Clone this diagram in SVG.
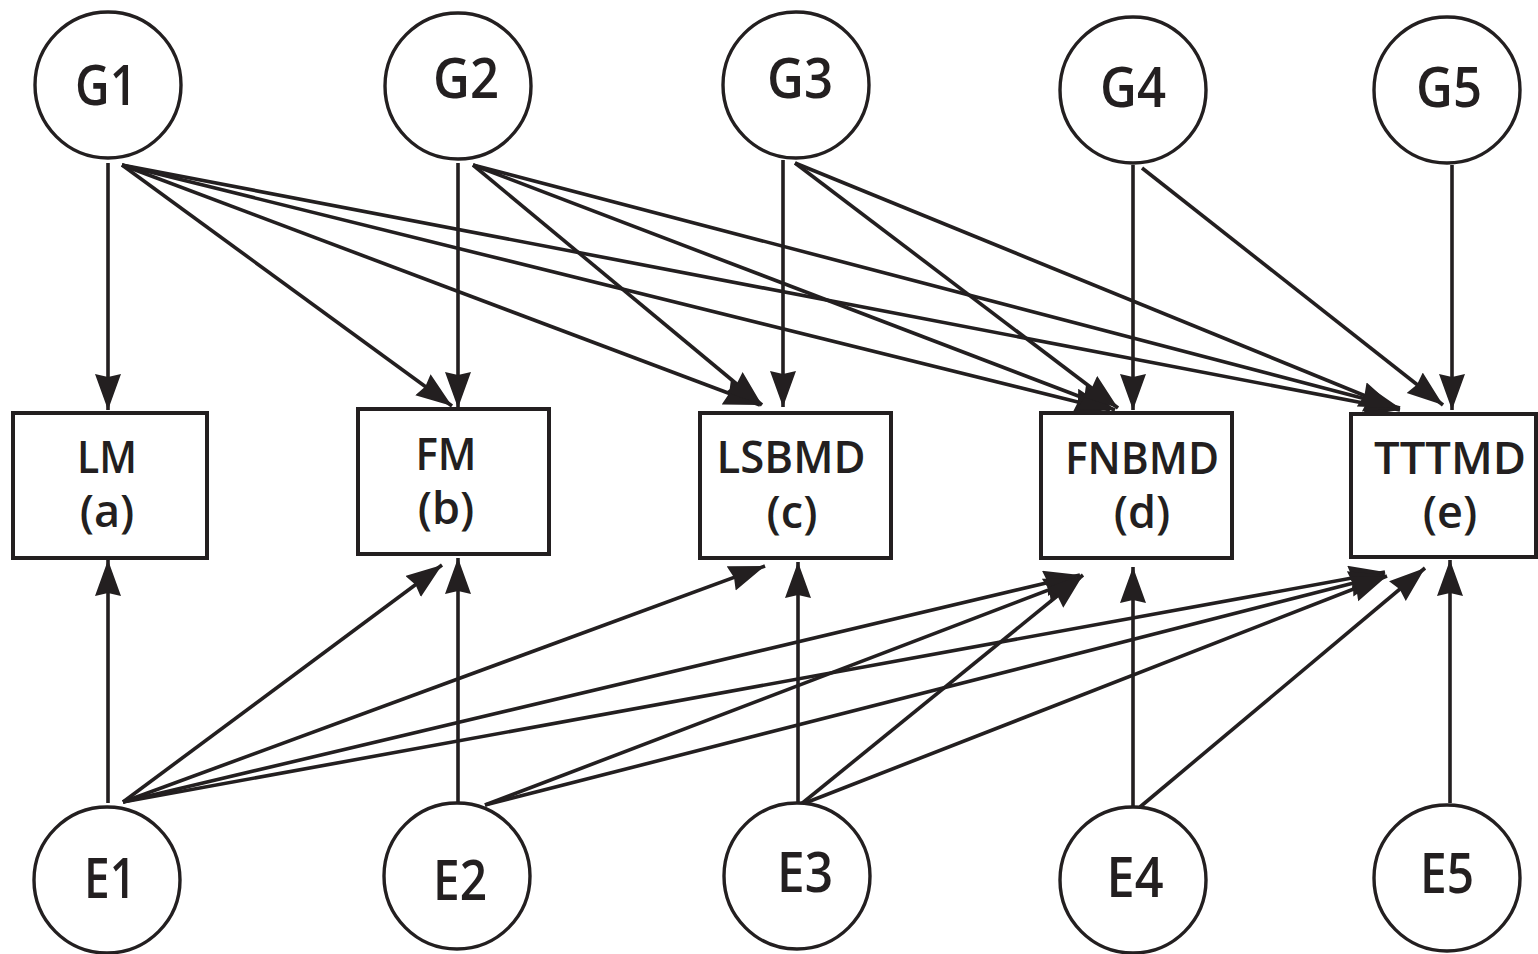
<svg xmlns="http://www.w3.org/2000/svg" width="1538" height="954" viewBox="0 0 1538 954">
<style>
.c{fill:#fff;stroke:#231f20;stroke-width:3.4}
.b{fill:#fff;stroke:#231f20;stroke-width:4}
.t{font-family:"Open Sans","Liberation Sans",sans-serif;font-weight:600;fill:#231f20;text-anchor:middle}
.ct{font-size:56px}
.bt{font-size:45px}
#edges line{stroke:#231f20;stroke-width:3.6;marker-end:url(#ah)}
</style>
<defs>
<marker id="ah" markerUnits="userSpaceOnUse" markerWidth="40" markerHeight="28" refX="36" refY="13" orient="auto">
<path d="M0,0 L36,13 L0,26 L3,13 z" fill="#231f20"/>
</marker>
</defs>
<rect width="1538" height="954" fill="#fff"/>
<g id="edges">
<line x1="108" y1="163" x2="108" y2="410"/>
<line x1="122" y1="165" x2="452" y2="406"/>
<line x1="122" y1="165" x2="760" y2="405"/>
<line x1="122" y1="165" x2="1110" y2="410"/>
<line x1="122" y1="165" x2="1400" y2="410"/>
<line x1="458" y1="163" x2="458" y2="408"/>
<line x1="473" y1="165" x2="762" y2="405"/>
<line x1="473" y1="165" x2="1115" y2="410"/>
<line x1="473" y1="165" x2="1400" y2="408"/>
<line x1="783" y1="160" x2="783" y2="407"/>
<line x1="795" y1="163" x2="1118" y2="408"/>
<line x1="795" y1="163" x2="1395" y2="408"/>
<line x1="1133" y1="165" x2="1133" y2="410"/>
<line x1="1142" y1="168" x2="1443" y2="405"/>
<line x1="1452" y1="165" x2="1452" y2="410"/>
<line x1="108" y1="803" x2="108" y2="560"/>
<line x1="123" y1="802" x2="442" y2="565"/>
<line x1="123" y1="802" x2="765" y2="566"/>
<line x1="123" y1="802" x2="1080" y2="575"/>
<line x1="123" y1="802" x2="1385" y2="572"/>
<line x1="458" y1="803" x2="458" y2="558"/>
<line x1="485" y1="805" x2="1080" y2="578"/>
<line x1="485" y1="805" x2="1385" y2="575"/>
<line x1="798" y1="802" x2="798" y2="562"/>
<line x1="800" y1="805" x2="1083" y2="575"/>
<line x1="800" y1="805" x2="1387" y2="576"/>
<line x1="1133" y1="808" x2="1133" y2="567"/>
<line x1="1140" y1="807" x2="1425" y2="568"/>
<line x1="1450" y1="803" x2="1450" y2="560"/>
</g>
<g id="G1"><circle class="c" cx="108" cy="85" r="73"/><text class="t ct" x="106" y="105" textLength="62" lengthAdjust="spacingAndGlyphs">G1</text></g>
<g id="G2"><circle class="c" cx="458" cy="86" r="73"/><text class="t ct" x="466" y="98" textLength="66" lengthAdjust="spacingAndGlyphs">G2</text></g>
<g id="G3"><circle class="c" cx="796" cy="85" r="73"/><text class="t ct" x="800" y="98" textLength="66" lengthAdjust="spacingAndGlyphs">G3</text></g>
<g id="G4"><circle class="c" cx="1133" cy="90" r="73"/><text class="t ct" x="1133" y="107" textLength="66" lengthAdjust="spacingAndGlyphs">G4</text></g>
<g id="G5"><circle class="c" cx="1447" cy="90" r="73"/><text class="t ct" x="1449" y="107" textLength="66" lengthAdjust="spacingAndGlyphs">G5</text></g>
<g id="LM"><rect class="b" x="13" y="413" width="194" height="145"/><text class="t bt" x="107" y="473" textLength="60" lengthAdjust="spacingAndGlyphs">LM</text><text class="t bt" x="107" y="527">(a)</text></g>
<g id="FM"><rect class="b" x="358" y="409" width="191" height="145"/><text class="t bt" x="446" y="470" textLength="61" lengthAdjust="spacingAndGlyphs">FM</text><text class="t bt" x="446" y="524">(b)</text></g>
<g id="LSBMD"><rect class="b" x="700" y="413" width="191" height="145"/><text class="t bt" x="791" y="473" textLength="149" lengthAdjust="spacingAndGlyphs">LSBMD</text><text class="t bt" x="792" y="528">(c)</text></g>
<g id="FNBMD"><rect class="b" x="1041" y="413" width="191" height="145"/><text class="t bt" x="1142" y="474" textLength="154" lengthAdjust="spacingAndGlyphs">FNBMD</text><text class="t bt" x="1142" y="528">(d)</text></g>
<g id="TTTMD"><rect class="b" x="1351" y="414" width="185" height="143"/><text class="t bt" x="1450" y="474" textLength="152" lengthAdjust="spacingAndGlyphs">TTTMD</text><text class="t bt" x="1450" y="528">(e)</text></g>
<g id="E1"><circle class="c" cx="107" cy="880" r="73"/><text class="t ct" x="110" y="898" textLength="52" lengthAdjust="spacingAndGlyphs">E1</text></g>
<g id="E2"><circle class="c" cx="457" cy="876" r="73"/><text class="t ct" x="460" y="900" textLength="54" lengthAdjust="spacingAndGlyphs">E2</text></g>
<g id="E3"><circle class="c" cx="797" cy="876" r="73"/><text class="t ct" x="805" y="892" textLength="56" lengthAdjust="spacingAndGlyphs">E3</text></g>
<g id="E4"><circle class="c" cx="1133" cy="880" r="73"/><text class="t ct" x="1135" y="897" textLength="57" lengthAdjust="spacingAndGlyphs">E4</text></g>
<g id="E5"><circle class="c" cx="1447" cy="878" r="73"/><text class="t ct" x="1447" y="893" textLength="54" lengthAdjust="spacingAndGlyphs">E5</text></g>
</svg>
